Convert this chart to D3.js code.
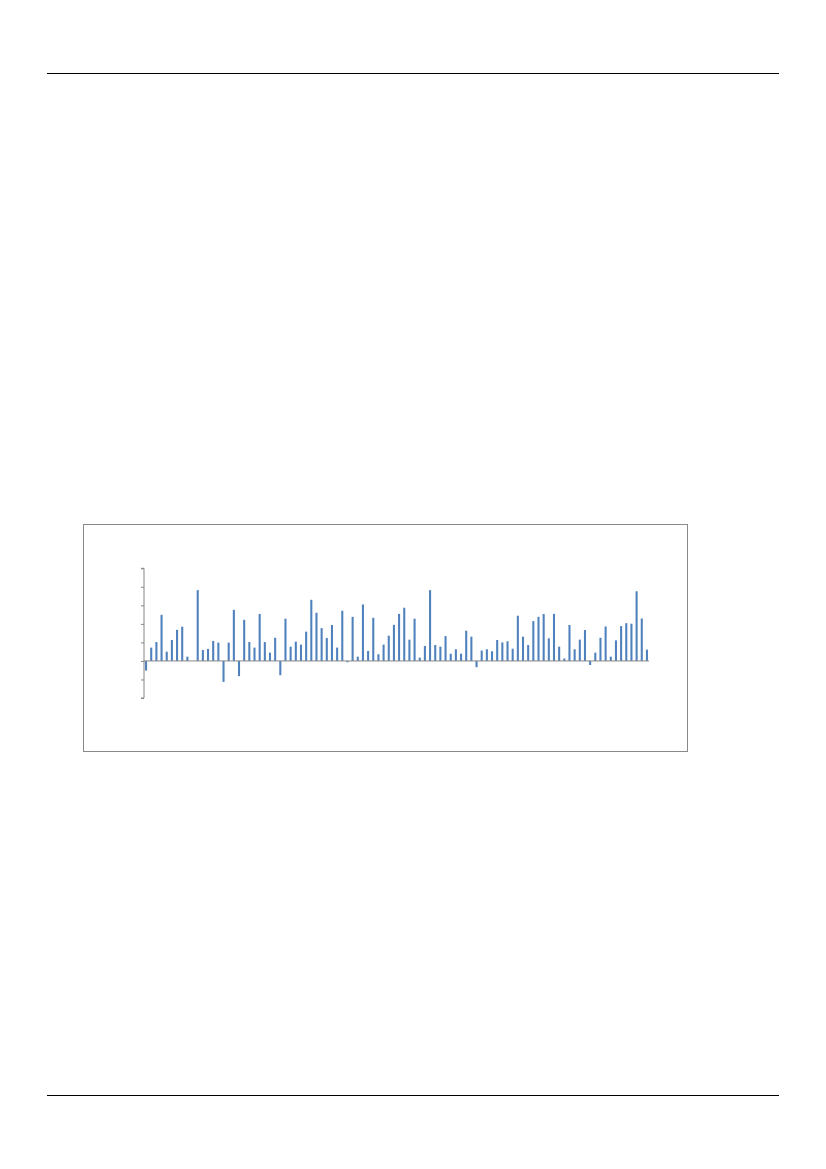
<!DOCTYPE html>
<html>
<head>
<meta charset="utf-8">
<title>Bar chart</title>
<style>
	html, body { margin: 0; padding: 0; background: white; }
	svg { display: block; }
</style>
</head>
<body>
<script src="https://cdn.jsdelivr.net/npm/d3@7/dist/d3.min.js"></script>
<script>

// one value per period (unlabelled y axis, 1 unit per tick)
var periods = d3.range(1, 99);
var values = [
	-0.52, 0.72, 1.02, 2.49, 0.50, 1.13, 1.68, 1.85, 0.23, 0,
	3.82, 0.59, 0.65, 1.08, 0.99, -1.13, 0.99, 2.76, -0.82, 2.22,
	1.02, 0.72, 2.54, 1.02, 0.45, 1.25, -0.77, 2.28, 0.77, 1.04,
	0.88, 1.58, 3.30, 2.60, 1.77, 1.24, 1.94, 0.72, 2.71, -0.07,
	2.38, 0.23, 3.05, 0.54, 2.33, 0.36, 0.88, 1.36, 1.95, 2.54,
	2.87, 1.15, 2.28, 0.18, 0.81, 3.82, 0.86, 0.77, 1.34, 0.39,
	0.63, 0.39, 1.63, 1.31, -0.34, 0.56, 0.63, 0.52, 1.13, 1.00,
	1.06, 0.66, 2.44, 1.31, 0.86, 2.15, 2.38, 2.53, 1.22, 2.54,
	0.77, 0.13, 1.94, 0.63, 1.15, 1.67, -0.22, 0.45, 1.25, 1.86,
	0.23, 1.11, 1.88, 2.04, 2.01, 3.76, 2.29, 0.61
];
var yTicks = [-2, -1, 0, 1, 2, 3, 4, 5];

var width = 826, height = 1169;

var svg = d3.select("body").append("svg")
	.attr("width", width)
	.attr("height", height);

// page rules (header / footer)
svg.append("line")
	.attr("x1", 47).attr("x2", 779)
	.attr("y1", 73.5).attr("y2", 73.5)
	.attr("stroke", "#000").attr("stroke-width", 1);
svg.append("line")
	.attr("x1", 47).attr("x2", 779)
	.attr("y1", 1095.5).attr("y2", 1095.5)
	.attr("stroke", "#000").attr("stroke-width", 1);

// chart frame
svg.append("rect")
	.attr("x", 83.5).attr("y", 524.5)
	.attr("width", 604).attr("height", 227)
	.attr("fill", "white")
	.attr("stroke", "#898989").attr("stroke-width", 1);

var x = d3.scaleBand()
	.domain(periods)
	.range([144, 649])
	.paddingInner(0.6)
	.paddingOuter(0.2);

var y = d3.scaleLinear()
	.domain([-2, 5])
	.range([698, 568.3]);

// bars
svg.append("g")
	.selectAll("rect")
	.data(values)
	.join("rect")
	.attr("x", function(d, i) { return x(periods[i]); })
	.attr("width", x.bandwidth())
	.attr("y", function(d) { return y(Math.max(0, d)); })
	.attr("height", function(d) { return Math.abs(y(d) - y(0)); })
	.attr("fill", "#4f81bd");

// y axis, ticks without labels
var yAxis = svg.append("g")
	.attr("transform", "translate(144,0)")
	.call(d3.axisLeft(y).tickValues(yTicks).tickSize(3).tickFormat(""));
yAxis.selectAll("path, line").attr("stroke", "#868686");
yAxis.select(".domain").attr("d", "M-3," + y(-2) + "H0V" + y(5) + "H-3");

// zero line
svg.append("line")
	.attr("x1", 144).attr("x2", 649)
	.attr("y1", y(0)).attr("y2", y(0))
	.attr("stroke", "#868686").attr("stroke-width", 1);

</script>
</body>
</html>
